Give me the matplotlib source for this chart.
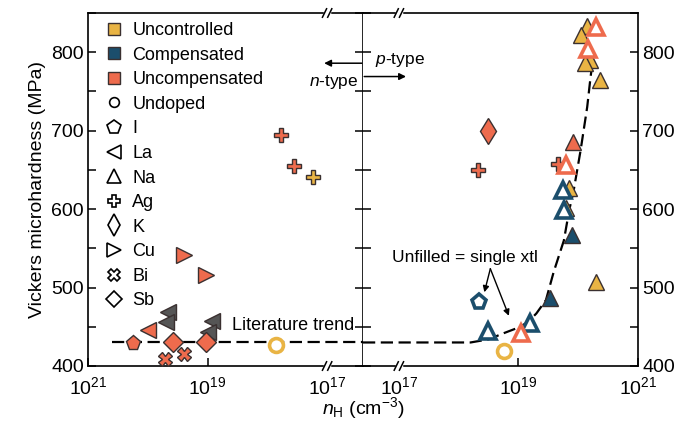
import matplotlib
matplotlib.use("Agg")
import matplotlib.pyplot as plt
import numpy as np
from matplotlib.lines import Line2D
from matplotlib.ticker import MultipleLocator, FixedLocator

plt.rcParams['font.family'] = ['Liberation Sans', 'DejaVu Sans']
plt.rcParams['mathtext.fontset'] = 'custom'
plt.rcParams['mathtext.rm'] = 'Liberation Sans'
plt.rcParams['mathtext.it'] = 'Liberation Sans:italic'

# colours
c_unc = '#E9B444'    # uncontrolled
c_comp = '#1B4E6C'   # compensated
c_ucomp = '#EE6B4D'  # uncompensated
c_grey = '#555555'
edge = '#3a3030'

# ---- n-type side (log10 nH, hardness MPa) ----
n_ag_ucomp = [17.77, 17.55]
h_ag_ucomp = [694, 655]
n_ag_unc = [17.24]
h_ag_unc = [641]
n_cu_ucomp = [19.40, 19.02]
h_cu_ucomp = [541, 516]
n_la_grey = [19.67, 19.69, 18.92, 19.00]
h_la_grey = [469, 456, 457, 443]
n_la_ucomp = [20.0]
h_la_ucomp = [446]
n_sb_ucomp = [19.57, 19.03]
h_sb_ucomp = [430, 430]
n_i_ucomp = [20.24]
h_i_ucomp = [429]
n_bi_ucomp = [19.72, 19.40]
h_bi_ucomp = [409, 415]
n_undoped_n = [17.86]
h_undoped_n = [427]

# ---- p-type side ----
n_na_unc = [20.15, 20.05, 20.20, 20.12, 20.37, 19.85, 19.80, 20.30]
h_na_unc = [834, 822, 790, 786, 764, 627, 601, 507]
n_na_comp_open = [19.74, 19.76, 18.49, 19.19]
h_na_comp_open = [624, 599, 445, 455]
n_na_comp = [19.89, 19.52]
h_na_comp = [567, 487]
n_i_comp_open = [18.34]
h_i_comp_open = [482]
n_ag_ucomp_p = [19.66, 18.33]
h_ag_ucomp_p = [657, 650]
n_k_ucomp = [18.49]
h_k_ucomp = [700]
n_na_ucomp = [19.92]
h_na_ucomp = [685]
n_na_ucomp_open = [20.30, 20.17, 19.80, 19.04]
h_na_ucomp_open = [832, 804, 656, 442]
n_undoped_p = [18.76]
h_undoped_p = [419]

# literature trend
trend_n_left = [20.6, 16.4]
trend_h_left = [430, 430]
trend_n_right = [16.4, 18.2, 18.5, 18.76, 19.0, 19.16, 19.3, 19.46, 19.59,
                 19.76, 19.85, 19.92, 20.04, 20.15, 20.20, 20.25]
trend_h_right = [430, 430, 434, 442, 449, 456, 467, 484, 520,
                 560, 599, 622, 675, 730, 764, 795]

xlo, xhi = 16.4, 21.0


def pw(v):
    return 10 ** np.array(v, dtype=float)


fig = plt.figure(figsize=(6.81, 4.26), dpi=100)
axL = fig.add_axes([88 / 681, 60 / 426, 275 / 681, 353 / 426])
axR = fig.add_axes([363 / 681, 60 / 426, 275 / 681, 353 / 426])

for ax in (axL, axR):
    ax.set_xscale('log')
    ax.set_ylim(400, 850)
    ax.yaxis.set_major_locator(MultipleLocator(100))
    ax.yaxis.set_minor_locator(MultipleLocator(50))
    ax.xaxis.set_major_locator(FixedLocator([1e21, 1e19, 1e17]))
    ax.xaxis.set_minor_locator(FixedLocator([]))
    ax.set_xticklabels(['$10^{21}$', '$10^{19}$', '$10^{17}$'])
    ax.tick_params(axis='both', which='both', direction='in', labelsize=14,
                   width=1.1, top=False)
    ax.tick_params(axis='y', which='both', length=6, left=True, right=True)
    ax.tick_params(axis='x', length=6, pad=7)
    ax.xaxis.get_major_ticks()[2].tick1line.set_visible(False)
    for s in ax.spines.values():
        s.set_linewidth(1.2)

axL.set_xlim(pw(xhi), pw(xlo))
axR.set_xlim(pw(xlo), pw(xhi))
axL.tick_params(axis='y', labelleft=True, labelright=False, pad=3)
axR.tick_params(axis='y', labelleft=False, labelright=True, pad=3)
axR.spines['left'].set_visible(False)

dash = (0, (5.5, 2.5))
axL.plot(pw(trend_n_left), trend_h_left, color='black', lw=1.6, ls=dash, zorder=1)
axR.plot(pw(trend_n_right), trend_h_right, color='black', lw=1.6, ls=dash, zorder=1)


def pts(ax, n, h, marker, color, ms=11, filled=True, mew=1.0, z=3):
    if filled:
        ax.plot(pw(n), h, ls='none', marker=marker, ms=ms, mfc=color,
                mec=edge, mew=mew, zorder=z, clip_on=False)
    else:
        ax.plot(pw(n), h, ls='none', marker=marker, ms=ms, mfc='white',
                mec=color, mew=2.6, zorder=z, clip_on=False)


# n-type panel
pts(axL, n_ag_ucomp, h_ag_ucomp, 'P', c_ucomp, ms=10)
pts(axL, n_ag_unc, h_ag_unc, 'P', c_unc, ms=10)
pts(axL, n_cu_ucomp, h_cu_ucomp, '>', c_ucomp)
pts(axL, n_la_grey, h_la_grey, '<', c_grey)
pts(axL, n_la_ucomp, h_la_ucomp, '<', c_ucomp)
pts(axL, n_sb_ucomp, h_sb_ucomp, 'D', c_ucomp, ms=10)
pts(axL, n_i_ucomp, h_i_ucomp, 'p', c_ucomp, ms=11)
pts(axL, n_bi_ucomp, h_bi_ucomp, 'X', c_ucomp, ms=10)
pts(axL, n_undoped_n, h_undoped_n, 'o', c_unc, ms=10, filled=False)

# p-type panel
pts(axR, n_na_unc, h_na_unc, '^', c_unc)
pts(axR, n_na_comp_open, h_na_comp_open, '^', c_comp, filled=False)
pts(axR, n_na_comp, h_na_comp, '^', c_comp)
pts(axR, n_i_comp_open, h_i_comp_open, 'p', c_comp, filled=False)
pts(axR, n_ag_ucomp_p, h_ag_ucomp_p, 'P', c_ucomp, ms=10)
pts(axR, n_k_ucomp, h_k_ucomp, 'd', c_ucomp, ms=13)
pts(axR, n_na_ucomp, h_na_ucomp, '^', c_ucomp)
pts(axR, n_na_ucomp_open, h_na_ucomp_open, '^', c_ucomp, filled=False, z=4)
pts(axR, n_undoped_p, h_undoped_p, 'o', c_unc, ms=10, filled=False)

# axis break marks at 10^17
for ax, xf in ((axL, (xhi - 17) / (xhi - xlo)), (axR, (17 - xlo) / (xhi - xlo))):
    dx, gap, dy = 0.0075, 0.0095, 0.012
    for yb in (0, 1):
        ax.plot([xf - gap + 0.002, xf + gap - 0.002], [yb, yb], color='white',
                lw=2.5, transform=ax.transAxes, clip_on=False, zorder=5)
        for off in (-gap, gap):
            ax.plot([xf + off - dx, xf + off + dx], [yb - dy, yb + dy],
                    color='black', lw=1.1, transform=ax.transAxes,
                    clip_on=False, zorder=6)

# texts and arrows
axL.text(pw(16.55), 452, 'Literature trend', fontsize=13, ha='right', va='center')
axL.text(pw(16.47), 762, '$n$-type', fontsize=12.5, ha='right', va='center')
axL.annotate('', xy=(pw(17.05), 786), xytext=(pw(16.42), 786),
             arrowprops=dict(arrowstyle='-|>', color='black', lw=1.1,
                             mutation_scale=10, shrinkA=0, shrinkB=0))
axR.text(pw(16.6), 790, '$p$-type', fontsize=12.5, ha='left', va='center')
axR.annotate('', xy=(pw(17.12), 769), xytext=(pw(16.42), 769),
             arrowprops=dict(arrowstyle='-|>', color='black', lw=1.1,
                             mutation_scale=10, shrinkA=0, shrinkB=0))
axR.text(pw(16.88), 538, 'Unfilled = single xtl', fontsize=12.5, ha='left',
         va='center')
for tx, ty in ((18.43, 494), (18.84, 464)):
    axR.annotate('', xy=(pw(tx), ty), xytext=(pw(18.53), 524),
                 arrowprops=dict(arrowstyle='-|>', color='black', lw=1.0,
                                 mutation_scale=9, shrinkA=0, shrinkB=0))

axL.set_ylabel('Vickers microhardness (MPa)', fontsize=14, labelpad=4)
fig.text(363 / 681, 18 / 426, '$n_\\mathrm{H}$ (cm$^{-3}$)', fontsize=14,
         ha='center', va='center')

# legend
handles = [
    Line2D([], [], ls='none', marker='s', ms=9, mfc=c_unc, mec=edge, label='Uncontrolled'),
    Line2D([], [], ls='none', marker='s', ms=9, mfc=c_comp, mec=edge, label='Compensated'),
    Line2D([], [], ls='none', marker='s', ms=9, mfc=c_ucomp, mec=edge, label='Uncompensated'),
]
for m, lab, s in (('o', 'Undoped', 7), ('p', 'I', 10), ('<', 'La', 10), ('^', 'Na', 10),
                  ('P', 'Ag', 9), ('d', 'K', 11), ('>', 'Cu', 10), ('X', 'Bi', 9),
                  ('D', 'Sb', 8.5)):
    handles.append(Line2D([], [], ls='none', marker=m, ms=s, mfc='white',
                          mec='black', mew=1.2, label=lab))
axL.legend(handles=handles, loc='upper left', bbox_to_anchor=(0.01, 1.005),
           frameon=False, fontsize=13, handletextpad=0.3, labelspacing=0.42,
           borderaxespad=0.2, handlelength=1.4)

fig.savefig('out.png', dpi=100)
